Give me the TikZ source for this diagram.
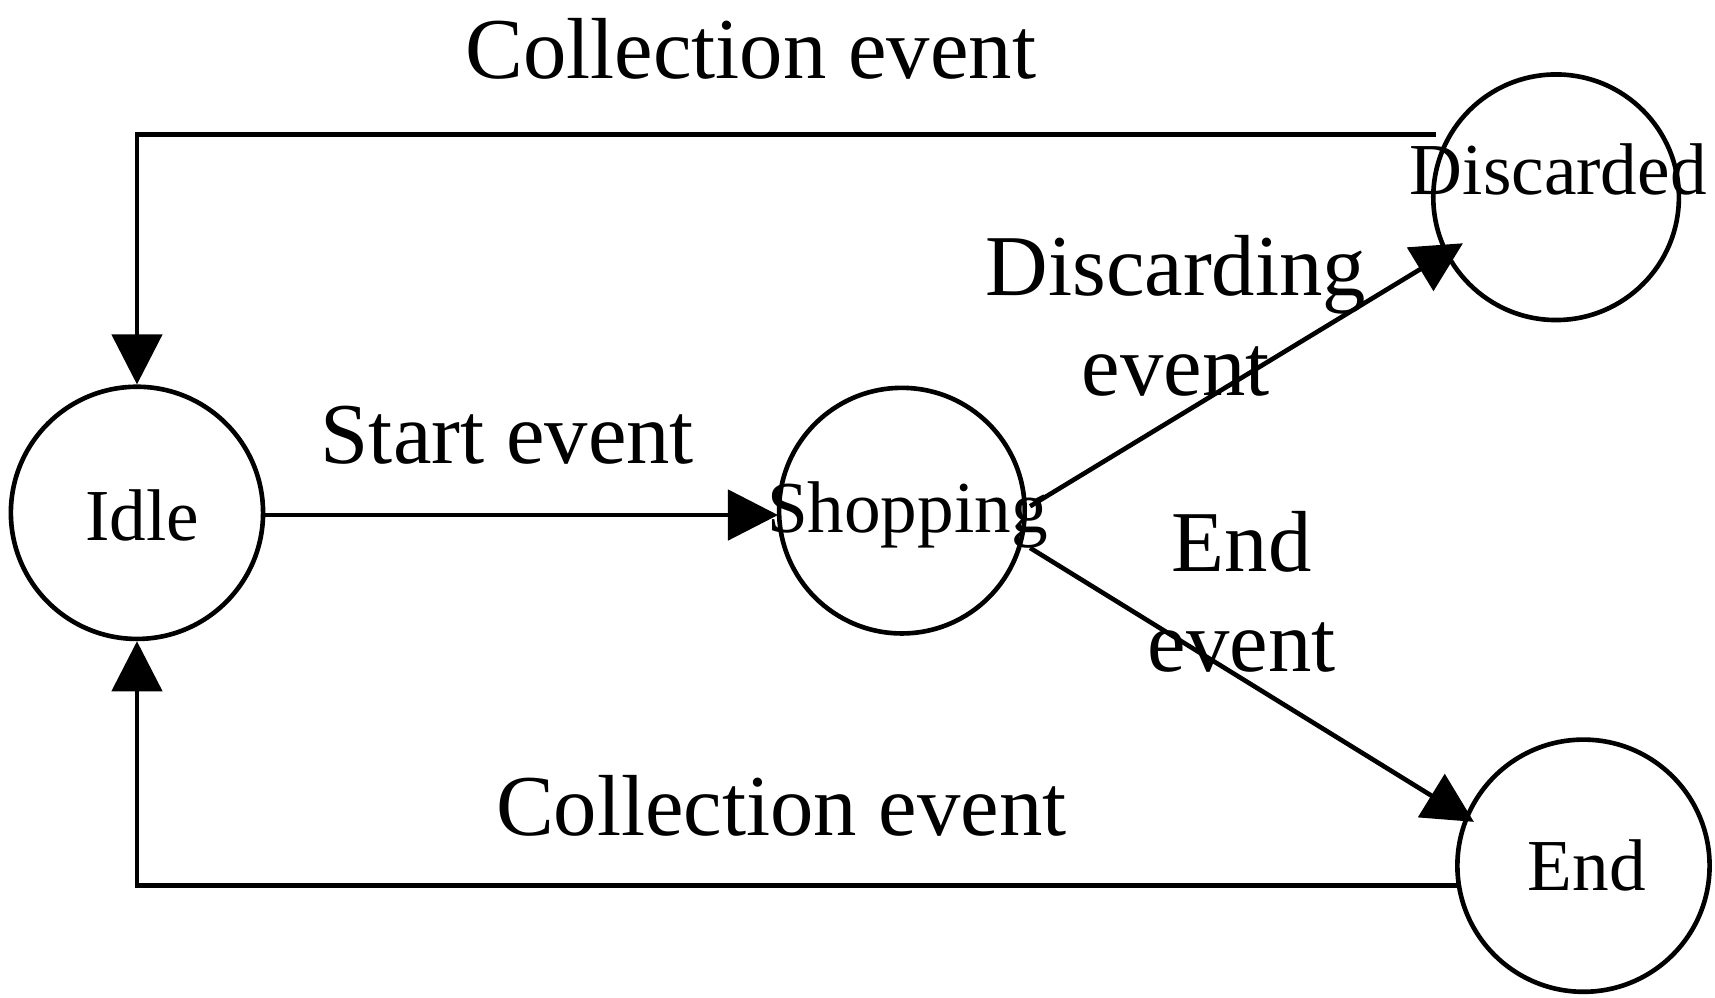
\documentclass[tikz,border=0pt]{standalone}
\usepackage{fontspec}
\setmainfont{Liberation Serif}
\usetikzlibrary{arrows.meta}
\begin{document}
\begin{tikzpicture}[x=0.01cm,y=-0.01cm,
  st/.style={circle,draw,line width=1.2pt,minimum size=#1,inner sep=0pt},
  nt/.style={font=\fontsize{19}{22}\selectfont},
  lb/.style={font=\fontsize{22.5}{26}\selectfont,align=center},
  ar/.style={line width=1.2pt,-{Triangle[length=13pt,width=13pt]}}]
\useasboundingbox (0,0) rectangle (1565,910);
\node[st=2.3cm] (idle) at (125,468) {};
\node[st=2.24cm] (shop) at (823,466) {};
\node[st=2.24cm] (disc) at (1420,180) {};
\node[st=2.3cm] (end) at (1445,790) {};
\node[nt] at (130,470) {Idle};
\node[nt] at (828,470) {Shopping};
\node[nt] at (1422,155) {Discarded};
\node[nt] at (1448,790) {End};
\coordinate (d1) at (1310,123);
\coordinate (e1) at (1330,808);
\coordinate (s1) at (940,462);
\coordinate (s2) at (940,500);
\coordinate (dIn) at (1335,222);
\coordinate (eIn) at (1345,750);
\draw[ar] (d1) -- (125,123) -- (idle.north);
\draw[ar] (e1) -- (125,808) -- (idle.south);
\draw[ar] (idle.east |- 0,470) -- (710,470);
\draw[ar] (s1) -- (dIn);
\draw[ar] (s2) -- (eIn);
\node[lb] at (685,45) {Collection event};
\node[lb] at (463,397) {Start event};
\node[lb,text depth=0pt] at (1073,288) {Discarding\\event};
\node[lb] at (1133,540) {End\\event};
\node[lb] at (713,735) {Collection event};
\end{tikzpicture}
\end{document}
